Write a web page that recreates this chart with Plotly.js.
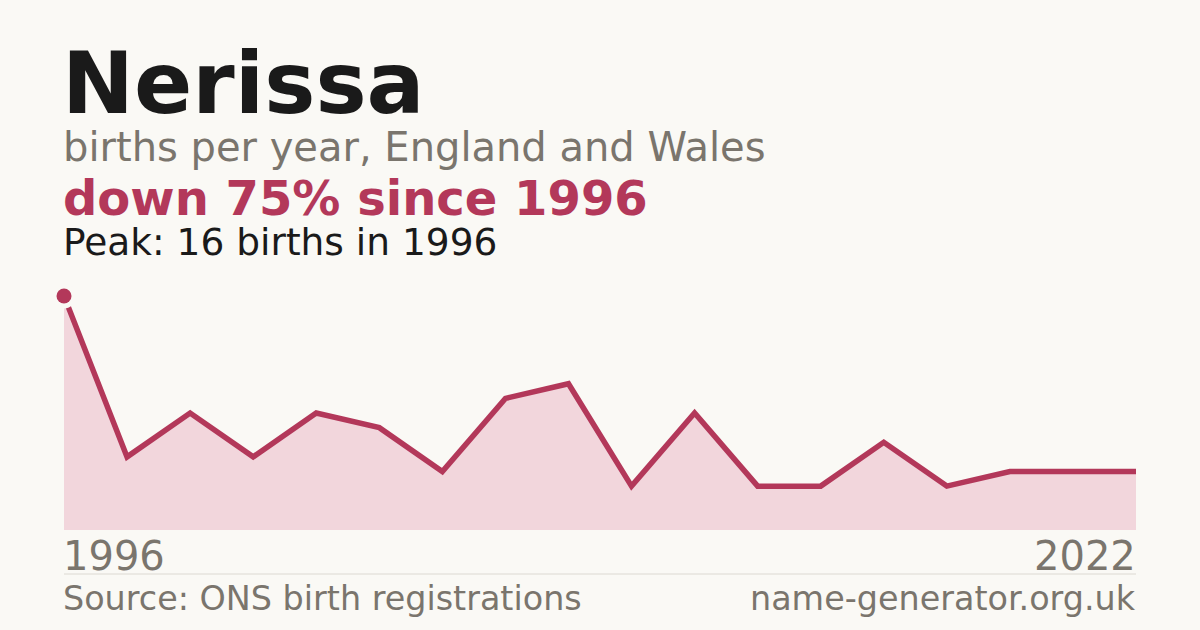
<!DOCTYPE html>
<html>
<head>
<meta charset="utf-8">
<script src="https://cdn.plot.ly/plotly-3.0.1.min.js"></script>
<style>
  html, body { margin: 0; padding: 0; background: #faf9f5; }
  #chart { width: 1200px; height: 630px; }
</style>
</head>
<body>
<div id="chart"></div>
<script>
// births per year, in the order they are drawn (first is 1996, last is 2022)
var births = [16, 5, 8, 5, 8, 7, 4, 9, 10, 3, 8, 3, 3, 6, 3, 4, 4, 4];
var firstYear = '1996';
var lastYear = '2022';
var peakValue = 16;

var red = '#b3385a';
var grey = '#7a756d';
var bg = '#faf9f5';
var font = 'DejaVu Sans, sans-serif';

var xs = births.map(function (v, i) { return i; });
var peakX = xs[births.indexOf(peakValue)];

var data = [{
    type: 'scatter',
    mode: 'lines',
    x: xs,
    y: births,
    fill: 'tozeroy',
    fillcolor: '#f2d6dc',
    line: {color: red, width: 5.5},
    hoverinfo: 'skip',
    showlegend: false
  }, {
    // halo in the page colour behind the peak dot
    type: 'scatter',
    mode: 'markers',
    x: [peakX],
    y: [peakValue],
    marker: {size: 25, color: bg},
    cliponaxis: false,
    hoverinfo: 'skip',
    showlegend: false
  }, {
    type: 'scatter',
    mode: 'markers',
    x: [peakX],
    y: [peakValue],
    marker: {size: 15, color: red},
    cliponaxis: false,
    hoverinfo: 'skip',
    showlegend: false
  }];

// paper y for a pixel row in the 630px page (plot area runs 296..530)
function py(p) { return (530 - p) / 234; }

function label(text, x, y, size, color, bold, anchor) {
  return {
    xref: 'paper', yref: 'paper', x: x, y: py(y),
    xanchor: anchor || 'left', yanchor: 'middle',
    text: bold ? '<b>' + text + '</b>' : text,
    showarrow: false,
    borderpad: 0,
    font: {family: font, size: size, color: color}
  };
}

var layout = {
  width: 1200,
  height: 630,
  paper_bgcolor: bg,
  plot_bgcolor: bg,
  margin: {l: 64, r: 64, t: 296, b: 100},
  xaxis: {range: [0, births.length - 1], visible: false, fixedrange: true},
  yaxis: {range: [0, peakValue], visible: false, fixedrange: true},
  shapes: [{
    type: 'line', xref: 'paper', yref: 'paper',
    x0: 0, x1: 1, y0: py(574), y1: py(574),
    line: {color: '#dcd9d2', width: 1}
  }],
  annotations: [
    label('Nerissa', -0.003, 83, 86, '#1a1a1a', true),
    label('births per year, England and Wales', -0.002, 147, 40, grey, false),
    label('down 75% since ' + firstYear, -0.002, 198, 48, red, true),
    label('Peak: ' + peakValue + ' births in ' + firstYear, -0.002, 242, 37.5, '#1a1a1a', false),
    label(firstYear, -0.002, 556, 40, grey, false),
    label(lastYear, 1.001, 556, 40, grey, false, 'right'),
    label('Source: ONS birth registrations', -0.002, 598, 33.4, grey, false),
    label('name-generator.org.uk', 1.001, 598, 33.4, grey, false, 'right')
  ]
};

Plotly.newPlot('chart', data, layout, {staticPlot: true, displayModeBar: false});
</script>
</body>
</html>
